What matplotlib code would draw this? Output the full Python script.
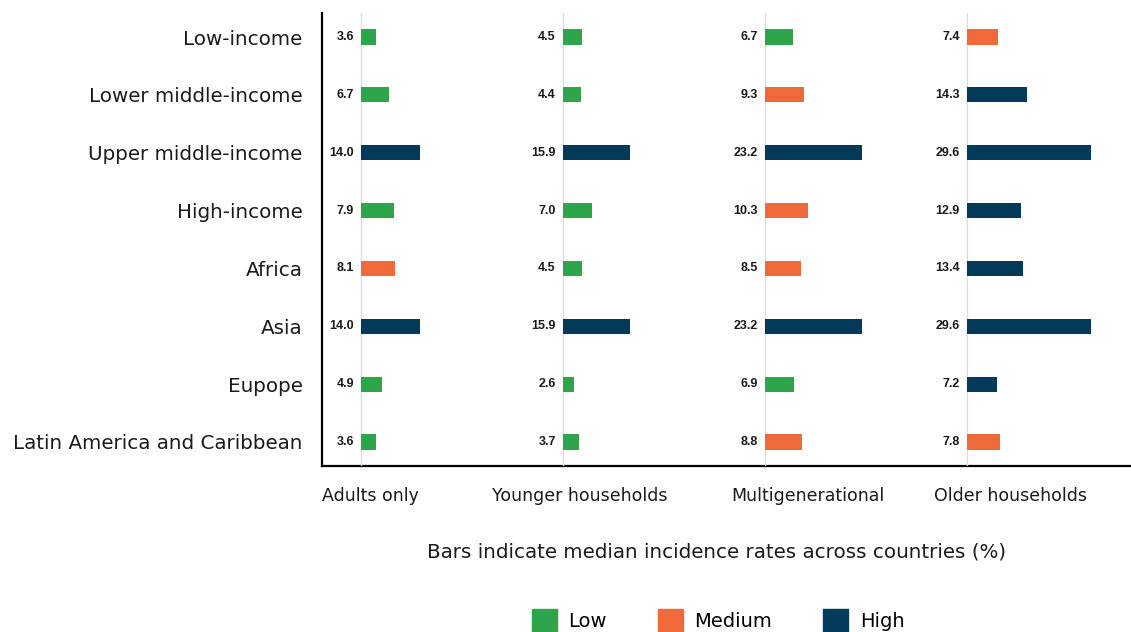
import matplotlib
matplotlib.use("Agg")
from matplotlib import pyplot as plt
from matplotlib.patches import Patch

regions = ["Low-income", "Lower middle-income", "Upper middle-income", "High-income",
           "Africa", "Asia", "Eupope", "Latin America and Caribbean"]
groups = ["Adults only", "Younger households", "Multigenerational", "Older households"]

adults = [3.6, 6.7, 14.0, 7.9, 8.1, 14.0, 4.9, 3.6]
younger = [4.5, 4.4, 15.9, 7.0, 4.5, 15.9, 2.6, 3.7]
multigen = [6.7, 9.3, 23.2, 10.3, 8.5, 23.2, 6.9, 8.8]
older = [7.4, 14.3, 29.6, 12.9, 13.4, 29.6, 7.2, 7.8]

# L = low, M = medium, H = high
adults_lvl = ["L", "L", "H", "L", "M", "H", "L", "L"]
younger_lvl = ["L", "L", "H", "L", "L", "H", "L", "L"]
multigen_lvl = ["L", "M", "H", "M", "M", "H", "L", "M"]
older_lvl = ["M", "H", "H", "H", "H", "H", "H", "M"]

values = [adults, younger, multigen, older]
levels = [adults_lvl, younger_lvl, multigen_lvl, older_lvl]

colors = {"L": "#2ea44b", "M": "#f0693a", "H": "#033a5a"}
level_names = {"L": "Low", "M": "Medium", "H": "High"}

font = "DejaVu Sans"
num_font = "Liberation Sans"

W, H = 1131, 632
fig = plt.figure(figsize=(W / 100, H / 100), dpi=100)

top_px, bot_px = 13, 466
ax_b = 1 - bot_px / H
ax_h = (bot_px - top_px) / H
n = len(regions)
ylim = (n - 1 + 0.415, -0.415)

# frame axes holding the row labels and the two spines
frame = fig.add_axes([322 / W, ax_b, (W - 322) / W, ax_h])
frame.set_ylim(*ylim)
frame.set_xlim(0, 1)
frame.set_yticks(range(n))
frame.set_yticklabels(regions, fontsize=14.3, family=font, color="#1a1a1a")
frame.tick_params(axis="y", length=0, pad=14)
frame.set_xticks([])
frame.spines["top"].set_visible(False)
frame.spines["right"].set_visible(False)
frame.spines["left"].set_linewidth(1.6)
frame.spines["bottom"].set_linewidth(1.6)
frame.patch.set_alpha(0)

px_per_unit = 4.2
for i, (vals, lvls) in enumerate(zip(values, levels)):
    base = 361 + 202 * i
    ax = fig.add_axes([(base - 40) / W, ax_b, 202 / W, ax_h])
    ax.set_xlim(-40 / px_per_unit, 162 / px_per_unit)
    ax.set_ylim(*ylim)
    ax.axvline(0, color="#dddddd", lw=1, zorder=0)
    y = range(len(vals))
    ax.barh(y, vals, height=0.26, color=[colors[l] for l in lvls], zorder=2)
    for yi, v in zip(y, vals):
        ax.text(-1.7, yi, f"{v:.1f}", ha="right", va="center", fontsize=9,
                family=num_font, weight="bold", color="#1a1a1a")
    ax.axis("off")

col_x = [370, 580, 808, 1010]
for cx, g in zip(col_x, groups):
    fig.text(cx / W, 1 - 496 / H, g, ha="center", va="center", fontsize=12.5,
             family=font, color="#1a1a1a")

fig.text(717 / W, 1 - 552 / H, "Bars indicate median incidence rates across countries (%)",
         ha="center", va="center", fontsize=14.3, family=font, color="#1a1a1a")

handles = [Patch(color=colors[k], label=level_names[k]) for k in ["L", "M", "H"]]
fig.legend(handles=handles, loc="center", bbox_to_anchor=(718 / W, 1 - 620 / H),
           ncol=3, frameon=False, handlelength=1.3, handleheight=1.3,
           columnspacing=2.6, handletextpad=0.6, prop={"family": font, "size": 14})

fig.savefig("out.png", dpi=100)
